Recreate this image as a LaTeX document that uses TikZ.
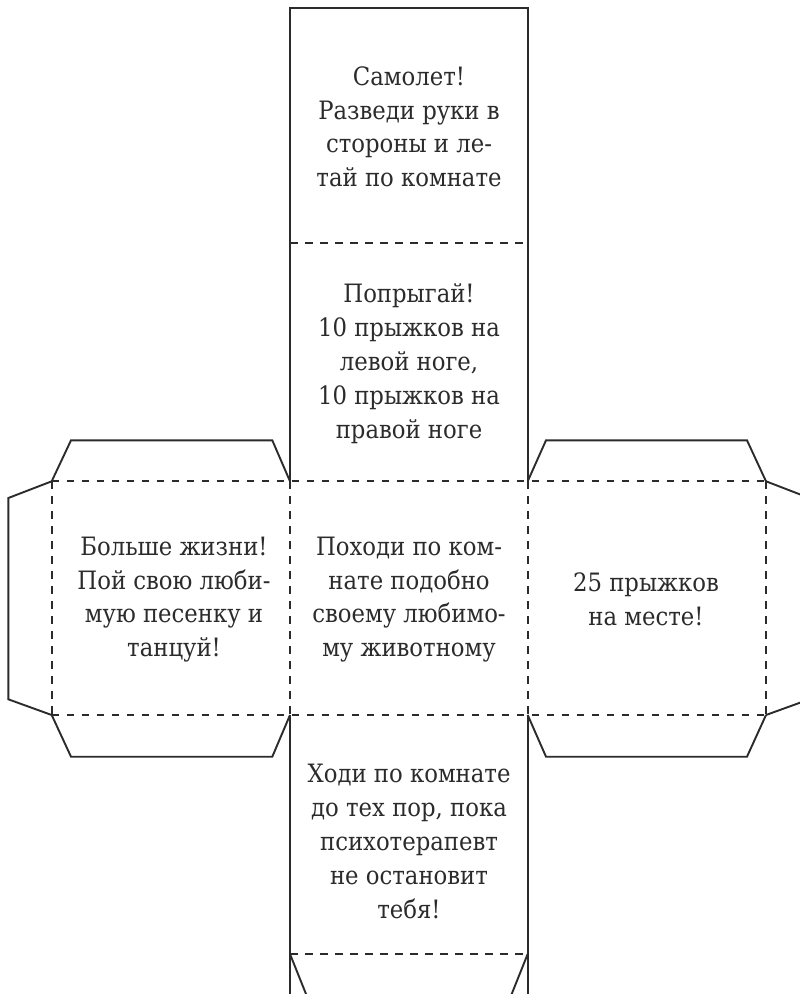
\documentclass[tikz,border=0pt]{standalone}
\usepackage{fontspec}
\setmainfont{DejaVu Serif Condensed}
\begin{document}
\begin{tikzpicture}[x=1pt,y=-1pt,
  cutline/.style={draw=ink,line width=1.9pt,line join=miter},
  foldline/.style={draw=ink,line width=1.9pt,dash pattern=on 7.5pt off 7.5pt},
  facetext/.style={align=center,text=ink,font=\fontsize{25.3}{33.8}\selectfont,inner sep=0pt,anchor=base}]
\definecolor{ink}{HTML}{2B2B2B}
\useasboundingbox (0,0) rectangle (800,994);
\clip (0,0) rectangle (800,994);
% cut lines
\draw[cutline] (290,481.3) -- (290,8) -- (527.7,8) -- (527.7,481.3);
\draw[cutline] (290,1010) -- (290,715);
\draw[cutline] (527.7,1010) -- (527.7,715);
\draw[cutline] (51.7,481.3) -- (71,440.3) -- (272.3,440.3) -- (290,481.3);
\draw[cutline] (527.7,481.3) -- (546,440.3) -- (747,440.3) -- (766,481.3);
\draw[cutline] (51.7,715) -- (71,756.7) -- (272.3,756.7) -- (290,715);
\draw[cutline] (527.7,715) -- (546,756.7) -- (747,756.7) -- (766,715);
\draw[cutline] (51.7,481.3) -- (8.3,498) -- (8.3,699.3) -- (51.7,715);
\draw[cutline] (766,481.3) -- (809.4,498) -- (809.4,699.3) -- (766,715);
\draw[cutline] (290,954) -- (310,1004);
\draw[cutline] (527.7,954) -- (507.7,1004);
% fold lines
\draw[foldline] (290,242.7) -- (527.7,242.7);
\draw[foldline] (51.7,481.3) -- (766,481.3);
\draw[foldline] (51.7,715) -- (766,715);
\draw[foldline] (290,954) -- (527.7,954);
\draw[foldline] (51.7,481.3) -- (51.7,715);
\draw[foldline] (290,481.3) -- (290,715);
\draw[foldline] (527.7,481.3) -- (527.7,715);
\draw[foldline] (766,481.3) -- (766,715);
% texts (anchor = baseline of last line)
\node[facetext] (plane) at (409,186.7) {Самолет!\\Разведи руки в\\стороны и ле-\\тай по комнате};
\node[facetext] (jump) at (409,438) {Попрыгай!\\10 прыжков на\\левой ноге,\\10 прыжков на\\правой ноге};
\node[facetext] (sing) at (174,656.7) {Больше жизни!\\Пой свою люби-\\мую песенку и\\танцуй!};
\node[facetext] (animal) at (409,656.7) {Походи по ком-\\нате подобно\\своему любимо-\\му животному};
\node[facetext] (place) at (646,625) {25 прыжков\\на месте!};
\node[facetext] (walk) at (409,918) {Ходи по комнате\\до тех пор, пока\\психотерапевт\\не остановит\\тебя!};
\end{tikzpicture}
\end{document}
